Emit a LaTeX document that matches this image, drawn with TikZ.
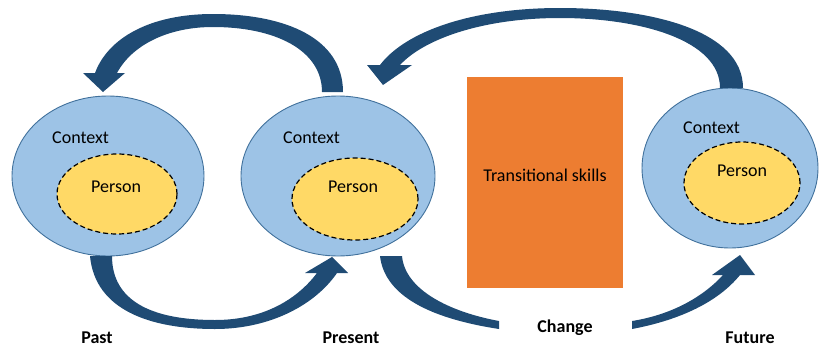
\documentclass[tikz,border=0pt]{standalone}
\usepackage{fontspec}
\setmainfont{Carlito}
\usetikzlibrary{shapes.geometric}
\definecolor{ctxblue}{RGB}{157,195,230}
\definecolor{ctxline}{RGB}{65,113,156}
\definecolor{persyellow}{RGB}{255,217,102}
\definecolor{skillorange}{RGB}{237,125,49}
\definecolor{arrowblue}{RGB}{31,75,116}
\tikzset{
    context/.style={ellipse, draw=ctxline, line width=0.9pt, fill=ctxblue, inner sep=0pt},
    person/.style={ellipse, draw=black, dash pattern=on 5pt off 3pt, line width=1.2pt, fill=persyellow, inner sep=0pt},
    txt/.style={anchor=base west, inner sep=0pt, font=\fontsize{18}{21}\selectfont},
    time/.style={anchor=base, inner sep=0pt, font=\fontsize{18}{21}\selectfont\bfseries},
    bandarrow/.style={fill=arrowblue, draw=none}
}
\begin{document}
\begin{tikzpicture}[x=1pt, y=-1pt]
    \useasboundingbox (0,0) rectangle (824,348);
    % Circles
    \node [context, minimum width=192pt, minimum height=160pt] (cpast) at (108,176) {};
    \node [context, minimum width=194pt, minimum height=160pt] (cpres) at (338,176) {};
    \node [context, minimum width=176pt, minimum height=160pt] (cfut) at (730,168) {};
    \node [person, minimum width=120pt, minimum height=80pt] (ppast) at (117,194) {};
    \node [person, minimum width=126pt, minimum height=82pt] (ppres) at (355,199) {};
    \node [person, minimum width=116pt, minimum height=82pt] (pfut) at (742,183) {};
    \node [txt] (lcpast) at (52,143) {Context};
    \node [txt] (lcpres) at (283,143) {Context};
    \node [txt] (lcfut) at (683,133) {Context};
    \node [txt] (lppast) at (91,192) {Person};
    \node [txt] (lppres) at (328,192) {Person};
    \node [txt] (lpfut) at (717,176) {Person};
    % Skills box
    \node [fill=skillorange, minimum width=156pt, minimum height=211pt, inner sep=0pt] (skills) at (545,182.5) {};
    \node [txt, anchor=base] (lskills) at (545,181) {Transitional skills};

    % Curved arrows
    \fill [bandarrow] (343,92) .. controls (343,38) and (285,14) .. (213,14)
        .. controls (150,14) and (108,38) .. (95,73) -- (83,73) -- (103,92) -- (125,73) -- (117,73)
        .. controls (132,45) and (168,27) .. (213,27) .. controls (275,27) and (322,50) .. (322,92) -- cycle;
    \fill [bandarrow] (743,88) .. controls (743,30) and (650,8) .. (560,8)
        .. controls (470,8) and (405,32) .. (380,65) -- (367,65) -- (383,85) -- (412,65) -- (400,65)
        .. controls (425,38) and (485,18) .. (560,18) .. controls (640,18) and (720,40) .. (720,88) -- cycle;
    \fill [bandarrow] (90,256) .. controls (95,310) and (150,329) .. (215,329)
        .. controls (270,329) and (315,305) .. (337,273) -- (348,273) -- (332,257) -- (305,273) -- (317,273)
        .. controls (295,302) and (260,320) .. (215,320) .. controls (150,320) and (112,300) .. (112,256) -- cycle;
    \fill [bandarrow] (380,256) .. controls (385,300) and (440,320) .. (499,329)
        -- (499,321) .. controls (450,312) and (405,290) .. (402,256) -- cycle;
    \fill [bandarrow] (632,329) .. controls (680,320) and (718,302) .. (740,275)
        -- (755,275) -- (740,255) -- (712,275) -- (723,275)
        .. controls (702,298) and (670,315) .. (632,321) -- cycle;

    % Time labels
    \node [time] (lpast) at (97,343) {Past};
    \node [time] (lpresent) at (351,343) {Present};
    \node [time] (lchange) at (565,332) {Change};
    \node [time] (lfuture) at (750,343) {Future};
\end{tikzpicture}
\end{document}
